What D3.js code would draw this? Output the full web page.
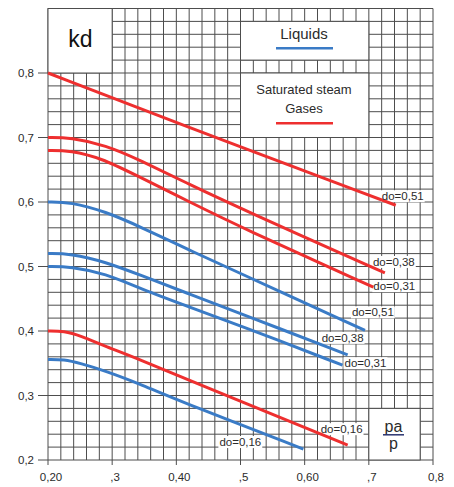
<!DOCTYPE html>
<html>
<head>
<meta charset="utf-8">
<script src="https://cdn.jsdelivr.net/npm/d3@7"></script>
<style>
  body { margin: 0; background: #fff; }
  svg text { font-family: "Liberation Sans", Arial, sans-serif; fill: #2b2b2b; }
</style>
</head>
<body>
<svg id="chart" width="454" height="487"></svg>
<script>
// tick values and labels, as printed on the chart
const x_ticks = [0.2, 0.3, 0.4, 0.5, 0.6, 0.7, 0.8];
const x_tick_labels = ["0,20", ",3", "0,40", ",5", "0,60", ",7", "0,8"];
const y_ticks = [0.2, 0.3, 0.4, 0.5, 0.6, 0.7, 0.8];
const y_tick_labels = ["0,2", "0,3", "0,4", "0,5", "0,6", "0,7", "0,8"];

// curve names (kind + do value) and points [pa/p, kd]
const curve_kinds = ["gas", "gas", "gas", "liquid", "liquid", "liquid", "gas", "liquid"];
const curve_labels = ["do=0,51", "do=0,38", "do=0,31", "do=0,51", "do=0,38", "do=0,31", "do=0,16", "do=0,16"];
const gas_051 = [[0.20, 0.800], [0.384, 0.729], [0.742, 0.595]];
const gas_038 = [[0.20, 0.700], [0.235, 0.700], [0.29, 0.688], [0.343, 0.665], [0.421, 0.627], [0.498, 0.591], [0.725, 0.490]];
const gas_031 = [[0.20, 0.680], [0.235, 0.680], [0.285, 0.667], [0.33, 0.645], [0.421, 0.600], [0.498, 0.562], [0.707, 0.468]];
const liq_051 = [[0.20, 0.600], [0.235, 0.600], [0.29, 0.585], [0.343, 0.562], [0.421, 0.525], [0.483, 0.497], [0.694, 0.401]];
const liq_038 = [[0.20, 0.520], [0.235, 0.520], [0.29, 0.507], [0.343, 0.487], [0.421, 0.457], [0.498, 0.428], [0.667, 0.363]];
const liq_031 = [[0.20, 0.500], [0.235, 0.500], [0.29, 0.489], [0.343, 0.466], [0.421, 0.437], [0.498, 0.409], [0.659, 0.347]];
const gas_016 = [[0.20, 0.400], [0.225, 0.400], [0.25, 0.393], [0.29, 0.376], [0.343, 0.356], [0.421, 0.323], [0.623, 0.241], [0.667, 0.223]];
const liq_016 = [[0.20, 0.356], [0.225, 0.356], [0.25, 0.350], [0.29, 0.338], [0.343, 0.318], [0.421, 0.285], [0.598, 0.217]];
const curve_points = [gas_051, gas_038, gas_031, liq_051, liq_038, liq_031, gas_016, liq_016];

// label offsets from the end of each curve, in pixels
const label_offsets = [[-14, -5], [-12, -7], [0, 3], [-13, -14], [-26, -13], [2, 2], [-27, -12], [-84, -3]];

let colors = { gas: "#ee2f2f", liquid: "#3a7bc6" };
let grid_color = "#4d4d4d";

var svg = d3.select("#chart");

var x = d3.scaleLinear().domain([0.2, 0.8]).range([48, 433]);
var y = d3.scaleLinear().domain([0.2, 0.9]).range([460, 8.5]);

// grid, one cell every 0,02
let grid_x = d3.range(0, 31).map(i => 0.2 + i * 0.02);
let grid_y = d3.range(0, 36).map(i => 0.2 + i * 0.02);

var grid = svg.append("g").attr("stroke", grid_color).attr("stroke-width", 1);
grid.selectAll(".gx").data(grid_x).enter().append("line")
    .attr("x1", d => x(d)).attr("x2", d => x(d))
    .attr("y1", y(0.9)).attr("y2", y(0.2));
grid.selectAll(".gy").data(grid_y).enter().append("line")
    .attr("x1", x(0.2)).attr("x2", x(0.8))
    .attr("y1", d => y(d)).attr("y2", d => y(d));

// white boxes laid over the grid
function box(x0, x1, y0, y1) {
    return svg.append("rect")
        .attr("x", x(x0)).attr("y", y(y1))
        .attr("width", x(x1) - x(x0)).attr("height", y(y0) - y(y1))
        .attr("fill", "white").attr("stroke", grid_color).attr("stroke-width", 1);
}
box(0.2, 0.3, 0.8, 0.9);
box(0.5, 0.7, 0.82, 0.88);
box(0.5, 0.7, 0.7, 0.8);
box(0.7, 0.78, 0.2, 0.28);

// ticks
svg.selectAll(".xt").data(x_ticks).enter().append("line")
    .attr("x1", d => x(d)).attr("x2", d => x(d))
    .attr("y1", y(0.2)).attr("y2", y(0.2) + 5)
    .attr("stroke", grid_color);
svg.selectAll(".yt").data(y_ticks).enter().append("line")
    .attr("x1", x(0.2) - 10).attr("x2", x(0.2))
    .attr("y1", d => y(d)).attr("y2", d => y(d))
    .attr("stroke", grid_color);

svg.selectAll(".xl").data(x_ticks).enter().append("text")
    .attr("x", d => x(d) + 3).attr("y", 481)
    .attr("text-anchor", "middle").style("font-size", "11.5px")
    .text((d, i) => x_tick_labels[i]);
svg.selectAll(".yl").data(y_ticks).enter().append("text")
    .attr("x", 34).attr("y", d => y(d) + 4)
    .attr("text-anchor", "end").style("font-size", "11.5px")
    .text((d, i) => y_tick_labels[i]);

// box texts
svg.append("text").attr("x", 80.5).attr("y", 47).attr("text-anchor", "middle")
    .style("font-size", "23px").style("fill", "#111").text("kd");

svg.append("text").attr("x", 304).attr("y", 39).attr("text-anchor", "middle")
    .style("font-size", "15px").text("Liquids");
svg.append("line").attr("x1", 276).attr("x2", 333).attr("y1", 48.3).attr("y2", 48.3)
    .attr("stroke", colors.liquid).attr("stroke-width", 2.5);

svg.append("text").attr("x", 304).attr("y", 94).attr("text-anchor", "middle")
    .style("font-size", "13px").text("Saturated steam");
svg.append("text").attr("x", 304).attr("y", 112.5).attr("text-anchor", "middle")
    .style("font-size", "13px").text("Gases");
svg.append("line").attr("x1", 276).attr("x2", 333).attr("y1", 123.3).attr("y2", 123.3)
    .attr("stroke", colors.gas).attr("stroke-width", 2.5);

svg.append("text").attr("x", 393.5).attr("y", 432).attr("text-anchor", "middle")
    .style("font-size", "16px").text("pa");
svg.append("line").attr("x1", 383).attr("x2", 404).attr("y1", 434.8).attr("y2", 434.8)
    .attr("stroke", "#2a3470").attr("stroke-width", 1.5);
svg.append("text").attr("x", 393.5).attr("y", 449).attr("text-anchor", "middle")
    .style("font-size", "16px").text("p");

// curves, with labels on white backing
var label_layer = svg.append("g");
var line_layer = svg.append("g");
var text_layer = svg.append("g");

var line = d3.line()
    .x(d => x(d[0]))
    .y(d => y(d[1]))
    .curve(d3.curveBasis);

curve_points.forEach((pts, i) => {
    line_layer.append("path")
        .attr("d", line(pts))
        .attr("fill", "none")
        .attr("stroke", colors[curve_kinds[i]])
        .attr("stroke-width", 3);

    let end = pts[pts.length - 1];
    let t = text_layer.append("text")
        .attr("x", x(end[0]) + label_offsets[i][0])
        .attr("y", y(end[1]) + label_offsets[i][1])
        .style("font-size", "11.5px")
        .text(curve_labels[i]);
    let bb = t.node().getBBox();
    label_layer.append("rect")
        .attr("x", bb.x - 1).attr("y", bb.y)
        .attr("width", bb.width + 2).attr("height", bb.height)
        .attr("fill", "white");
});
</script>
</body>
</html>
